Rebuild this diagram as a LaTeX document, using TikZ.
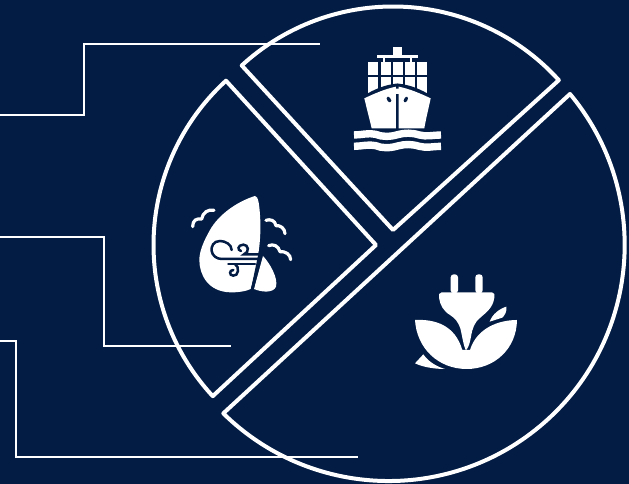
\documentclass[tikz,border=0pt]{standalone}
\usepackage{tikz}
\definecolor{mapNavy}{RGB}{3,28,68}
\begin{document}
\begin{tikzpicture}[
  x=1pt,y=1pt,
  sector/.style={draw=white,line width=4pt,line join=round},
  leader/.style={draw=white,line width=2pt,line join=miter},
  solidicon/.style={fill=white,draw=none},
  cutline/.style={draw=mapNavy,line width=2.5pt,line cap=round},
  gustline/.style={draw=white,line width=3.2pt,line cap=round,line join=round},
  waveline/.style={draw=white,line width=7.4pt}
]
\fill[mapNavy] (0,0) rectangle (629,484);
\useasboundingbox (0,0) rectangle (629,484);

\draw[sector] (393,254) -- ++(132.6:223.5) arc[start angle=132.6,end angle=42.1,radius=223.5] -- cycle;
\draw[sector] (376,239) -- ++(132.4:222.5) arc[start angle=132.4,end angle=222.8,radius=222.5] -- cycle;
\draw[sector] (570,390) arc[start angle=39.8,end angle=-134.5,radius=236] -- cycle;

\draw[leader] (0,369) -- (84,369) -- (84,440) -- (320,440);
\draw[leader] (0,247) -- (104,247) -- (104,138) -- (231,138);
\draw[leader] (0,143) -- (16,143) -- (16,27) -- (358,27);

\begin{scope}[shift={(330,454)},x=0.3333pt,y=-0.3333pt]
\fill[solidicon] (190,52) rectangle (216,75);
\fill[solidicon] (142,74) rectangle (263,85);
\foreach \cx in {115,152,188,224,260}{
  \fill[solidicon] (\cx,95) rectangle ++(30,40);
  \fill[solidicon] (\cx,141) rectangle ++(30,50);
}
\fill[solidicon] (160,85) rectangle (166,95);
\fill[solidicon] (240,85) rectangle (246,95);
\draw[draw=mapNavy,line width=5pt] (103,205) .. controls (135,185) and (165,172) .. (202,168) .. controls (240,172) and (270,185) .. (302,205);
\fill[solidicon] (103,205) .. controls (135,190) and (165,177) .. (198,170) -- (198,295) -- (125,295) .. controls (118,265) and (110,235) .. cycle;
\fill[solidicon] (302,205) .. controls (270,190) and (240,177) .. (206,170) -- (206,295) -- (283,295) .. controls (288,265) and (296,235) .. cycle;
\fill[mapNavy] (170,205) .. controls (172,196) and (180,200) .. (184,212) .. controls (182,220) and (172,218) .. cycle;
\fill[mapNavy] (234,205) .. controls (232,196) and (224,200) .. (221,212) .. controls (222,220) and (232,218) .. cycle;
\foreach \wy in {315,349}{
  \draw[waveline] (72,\wy) .. controls (95,\wy) and (115,\wy-7) .. (137,\wy-2) .. controls (155,\wy+6) and (180,\wy+6) .. (203,\wy-1) .. controls (225,\wy-7) and (245,\wy-7) .. (268,\wy) .. controls (290,\wy+6) and (310,\wy) .. (333,\wy);
}
\end{scope}

\begin{scope}[shift={(180,299)},x=0.3333pt,y=-0.3333pt]
\fill[solidicon] (225,33) .. controls (170,50) and (115,90) .. (90,135) .. controls (70,170) and (58,200) .. (58,225) .. controls (58,270) and (85,320) .. (150,322) .. controls (175,323) and (200,318) .. (212,312) .. controls (235,230) and (245,160) .. (240,90) .. controls (238,60) and (235,33) .. (225,33) -- cycle;
\fill[solidicon] (249,213) .. controls (270,235) and (295,280) .. (288,305) .. controls (280,325) and (245,322) .. (222,312) -- cycle;
\draw[cutline] (155,195) .. controls (155,178) and (135,168) .. (120,168) .. controls (100,168) and (93,185) .. (95,198) .. controls (97,212) and (110,222) .. (125,222) -- (238,222);
\draw[cutline] (183,198) .. controls (172,196) and (172,180) .. (190,179) .. controls (205,178) and (210,202) .. (192,208) -- (238,208);
\draw[cutline] (145,237) -- (225,237);
\draw[cutline] (165,237) .. controls (180,245) and (175,275) .. (160,272) .. controls (147,272) and (147,255) .. (160,255);
\draw[cutline,line width=2.8pt,line cap=butt] (243,190) -- (216,318);
\draw[gustline] (38,125) .. controls (38,105) and (50,100) .. (65,102) .. controls (68,82) and (85,72) .. (102,76);
\draw[gustline] (258,106) .. controls (270,102) and (285,105) .. (288,122) .. controls (300,120) and (315,130) .. (315,146);
\draw[gustline] (266,182) .. controls (280,176) and (295,182) .. (300,200) .. controls (315,198) and (332,208) .. (332,224);
\end{scope}

\begin{scope}[shift={(405,219)},x=0.3333pt,y=-0.3333pt]
\fill[solidicon,rounded corners=3pt] (137,85) -- (137,28) -- (159,28) -- (159,85) -- cycle;
\fill[solidicon,rounded corners=3pt] (211,85) -- (211,28) -- (233,28) -- (233,85) -- cycle;
\fill[solidicon] (110,82) -- (261,82) .. controls (268,82) and (270,90) .. (268,98) .. controls (264,130) and (240,145) .. (226,158) .. controls (209,171) and (202,190) .. (198,215) .. controls (194,235) and (192,245) .. (183,256) .. controls (176,245) and (172,215) .. (166,190) .. controls (160,172) and (150,159) .. (135,150) .. controls (115,138) and (105,120) .. (102,98) .. controls (100,90) and (103,82) .. (110,82) -- cycle;
\fill[solidicon] (30,165) .. controls (90,162) and (150,180) .. (172,255) -- (195,255) .. controls (215,190) and (280,165) .. (336,165) .. controls (335,250) and (270,312) .. (185,312) .. controls (100,312) and (35,250) .. (30,165) -- cycle;
\fill[solidicon] (30,295) -- (55,268) .. controls (70,290) and (95,305) .. (120,312) .. controls (90,312) and (55,307) .. (30,295) -- cycle;
\fill[solidicon] (254,170) .. controls (262,148) and (282,132) .. (304,125) .. controls (306,140) and (300,150) .. (292,158) -- cycle;
\end{scope}
\end{tikzpicture}
\end{document}
